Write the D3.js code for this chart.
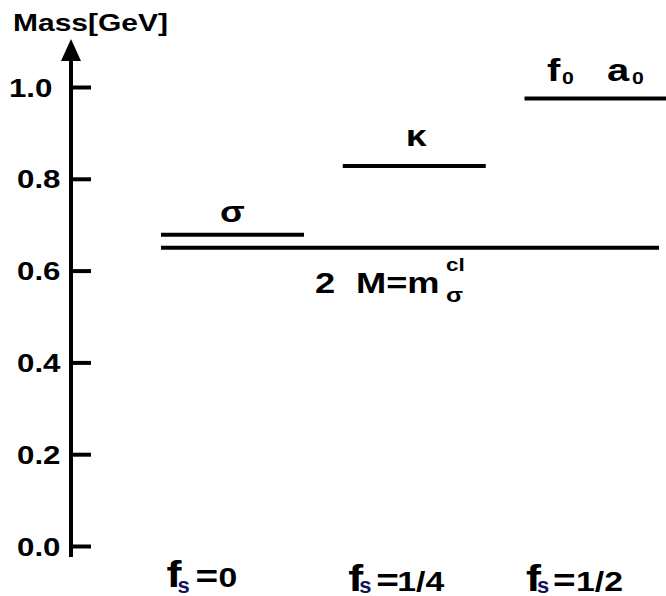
<!DOCTYPE html>
<html>
<head>
<meta charset="utf-8">
<script src="https://cdn.jsdelivr.net/npm/d3@7"></script>
<style>
  body { margin: 0; background: #fff; }
  text { font-family: "Liberation Sans", Arial, Helvetica, sans-serif; font-weight: bold; fill: #000; }
</style>
</head>
<body>
<svg id="chart" width="666" height="596"></svg>
<script>
// Strange-quark fraction f_s for each column
const fsValues = [0, 0.25, 0.5];
const fsLabels = ["0", "1/4", "1/2"];
// Meson masses (GeV) for each column
const masses = [0.678, 0.828, 0.975];
// Threshold 2M = m_sigma^cl (GeV)
const thresholdMass = 0.65;
// Vertical axis ticks
const yTicks = [0, 0.2, 0.4, 0.6, 0.8, 1.0];
const yTickLabels = ["0.0", "0.2", "0.4", "0.6", "0.8", "1.0"];

const svg = d3.select("#chart");
const axisX = 71;
const SX = 1.25; // wide lettering

const y = d3.scaleLinear().domain([0, 1]).range([546, 87]);
const x = d3.scaleLinear().domain([0, 0.5]).range([232.5, 596]);
const halfW = 71.5;

// Horizontally widened text placed at an absolute position
function wideText(px, py, size, str, opts = {}) {
  const sx = opts.sx || SX;
  const t = svg.append("text")
    .attr("transform", `translate(${px},${py}) scale(${sx},1)`)
    .attr("text-anchor", opts.anchor || "start")
    .style("font-size", size + "px")
    .text(str);
  if (opts.fill) t.style("fill", opts.fill);
  return t;
}

// Vertical axis: ticks to the right, labels to the left
const axis = d3.axisLeft(y)
  .tickValues(yTicks)
  .tickFormat((d, i) => yTickLabels[i])
  .tickSize(-20)
  .tickPadding(0);

const gAxis = svg.append("g").attr("transform", `translate(${axisX},0)`).call(axis);
gAxis.select(".domain").remove();
gAxis.selectAll(".tick line").attr("stroke", "#000").attr("stroke-width", 4);
gAxis.selectAll(".tick text")
  .attr("text-anchor", "start")
  .attr("transform", `scale(${SX},1)`)
  .attr("x", d => (d === 1 ? -62 : -54) / SX)
  .attr("dy", "0.36em")
  .style("font-size", "25px")
  .attr("fill", "#000");

// Axis line with arrow head
svg.append("line")
  .attr("x1", axisX).attr("x2", axisX)
  .attr("y1", 557).attr("y2", 58)
  .attr("stroke", "#000").attr("stroke-width", 4);
svg.append("path")
  .attr("d", `M${axisX},39 L${axisX - 10},61 L${axisX + 10},61 Z`)
  .attr("fill", "#000");

wideText(13, 31, 24, "Mass[GeV]");

// Threshold line 2M
svg.append("line")
  .attr("x1", x(0) - halfW).attr("x2", 659)
  .attr("y1", y(thresholdMass)).attr("y2", y(thresholdMass))
  .attr("stroke", "#000").attr("stroke-width", 4);

// Meson levels
svg.selectAll("line.level")
  .data(masses)
  .join("line")
  .attr("class", "level")
  .attr("x1", (d, i) => x(fsValues[i]) - halfW)
  .attr("x2", (d, i) => x(fsValues[i]) + halfW)
  .attr("y1", d => y(d)).attr("y2", d => y(d))
  .attr("stroke", "#000").attr("stroke-width", 4);

// Level names
wideText(x(fsValues[0]), y(masses[0]) - 13, 29, "σ", { anchor: "middle" });
wideText(x(fsValues[1]) + 2, y(masses[1]) - 20, 30, "κ", { anchor: "middle" });

const fy = y(masses[2]) - 17;
wideText(547, fy, 32, "f");
wideText(562, fy + 3, 17, "0");
wideText(607, fy, 32, "a");
wideText(632, fy + 3, 17, "0");

// Threshold label: 2 M = m_sigma^cl
const ty = y(thresholdMass) + 45;
wideText(315, ty, 29, "2");
wideText(356, ty, 29, "M=m");
wideText(446, ty - 22, 18, "cl");
wideText(446, ty + 9, 20, "σ");

// Column labels f_s = ...
const colOffsets = [
  { f: -66, s: -55, eq: -37, v: -14, dy: 0 },
  { f: -66, s: -55, eq: -38, v: -17, dy: 4 },
  { f: -70, s: -59, eq: -43, v: -20, dy: 4 }
];
fsValues.forEach((f, i) => {
  const o = colOffsets[i];
  const cx = x(f);
  const by = 587 + o.dy;
  wideText(cx + o.f, by, 36, "f");
  wideText(cx + o.s, Math.min(by + 6, 593), 22, "s", { fill: "#12125a", sx: 1 });
  wideText(cx + o.eq, by, 31, "=");
  wideText(cx + o.v, by, 27, fsLabels[i]);
});
</script>
</body>
</html>
